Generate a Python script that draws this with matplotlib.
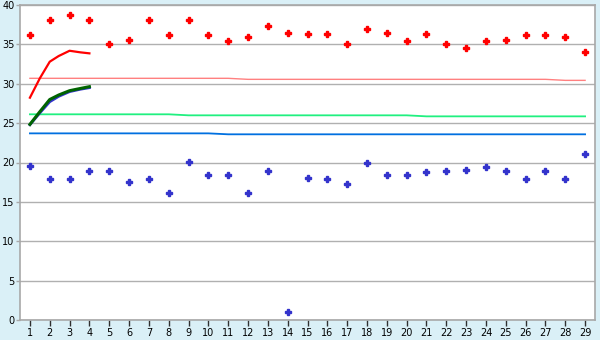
import numpy as np
import matplotlib.pyplot as plt

# categorias do eixo x
dias = np.arange(1, 30)

# pontos
maximos = [36.2, 38.1, 38.7, 38.1, 35.0, 35.5, 38.1, 36.2, 38.1, 36.15,
           35.4, 36.0, 37.3, 36.5, 36.3, 36.3, 35.0, 37.0, 36.5, 35.4,
           36.3, 35.0, 34.6, 35.4, 35.5, 36.15, 36.15, 36.0, 34.0]
minimos = [19.56, 17.86, 17.86, 18.88, 18.88, 17.48, 17.86, 16.08, 20.02, 18.37,
           18.37, 16.08, 18.88, 0.97, 17.99, 17.86, 17.23, 19.90, 18.37, 18.37,
           18.75, 18.88, 19.0, 19.39, 18.88, 17.86, 18.88, 17.86, 21.04]

# linhas quase horizontais (um valor por categoria)
media_max = [30.69] * 11 + [30.56] * 16 + [30.43] * 2
media_geral = [26.12] * 8 + [25.99] * 12 + [25.86] * 9
media_min = [23.70] * 10 + [23.58] * 19

# curvas dos primeiros dias
x_curva = [1.0, 1.5, 2.0, 2.45, 3.0, 3.54, 4.0]
curva_vermelha = [28.23, 30.69, 32.80, 33.52, 34.19, 33.99, 33.86]
curva_verde = [24.84, 26.45, 28.0, 28.57, 29.12, 29.4, 29.63]
curva_azul = [24.8, 26.3, 27.72, 28.4, 29.0, 29.3, 29.5]

fig = plt.figure(figsize=(6, 3.4), dpi=100, facecolor='#DAF0F7')
ax = fig.add_axes([20 / 600, 20 / 340, 575 / 600, 315 / 340])
ax.set_facecolor('white')

ax.plot(dias, media_max, color='#FF8080', lw=1.0, zorder=2)
ax.plot(dias, media_geral, color='#20F080', lw=1.3, zorder=2)
ax.plot(dias, media_min, color='#0070E0', lw=1.3, zorder=2)

ax.plot(x_curva, curva_vermelha, color='#FF0000', lw=1.6, zorder=3)
ax.plot(x_curva, curva_azul, color='#3333CC', lw=2.0, zorder=3)
ax.plot(x_curva, curva_verde, color='#006400', lw=2.2, zorder=4)

ax.plot(dias, maximos, linestyle='', marker='P', ms=4.5, color='#FF0000',
        mec='#FF0000', zorder=5)
ax.plot(dias, minimos, linestyle='', marker='P', ms=4.5, color='#3333CC',
        mec='#3333CC', zorder=5)

ax.set_xlim(0.5, 29.5)
ax.set_ylim(0, 40)
ax.set_xticks(dias)
ax.set_yticks(np.arange(0, 41, 5))
ax.yaxis.grid(True, color='#B0B0B0', lw=1.0)
ax.set_axisbelow(True)
for s in ax.spines.values():
    s.set_color('#A8A8A8')
    s.set_linewidth(1.2)
ax.tick_params(axis='x', direction='out', length=4, width=1,
               color='#303030', labelsize=7, pad=2)
ax.tick_params(axis='y', direction='out', length=3, width=1,
               color='#A8A8A8', labelsize=7, pad=1)

plt.savefig('out.png', dpi=100, facecolor=fig.get_facecolor())
